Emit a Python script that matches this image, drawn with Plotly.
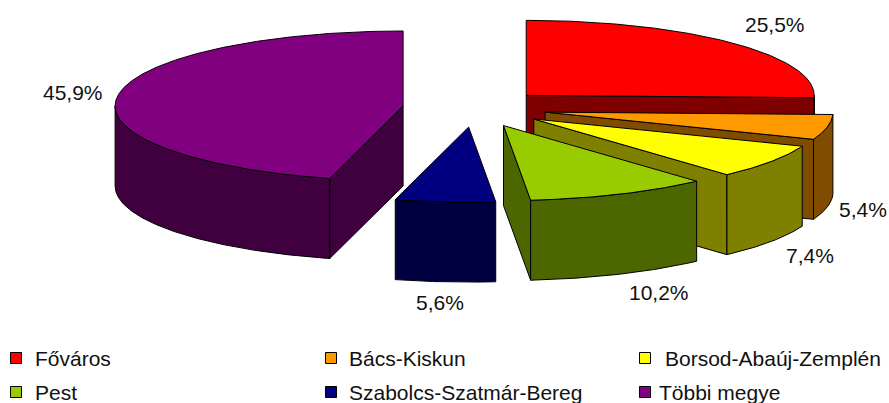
import math
import plotly.graph_objects as go

categories = ["Főváros", "Bács-Kiskun", "Borsod-Abaúj-Zemplén", "Pest", "Szabolcs-Szatmár-Bereg", "Többi megye"]
shares = [25.5, 5.4, 7.4, 10.2, 5.6, 45.9]
share_labels = ["25,5%", "5,4%", "7,4%", "10,2%", "5,6%", "45,9%"]
top_colors = ["#FF0000", "#FF9900", "#FFFF00", "#99CC00", "#000080", "#800080"]
side_colors = ["#7F0000", "#7F4C00", "#7F7F00", "#4C6600", "#000040", "#400040"]

# projection of the pie (canvas units = pixels)
CX, CY, RX, RY, DEPTH, EXPLODE = 474.5, 108.4, 288, 75, 80, 0.25
label_pos = [(775, 24), (863, 209), (810, 255), (659, 292), (440, 302), (73, 92)]
legend_marker = [(16, 358), (331, 358), (645, 358), (16, 392), (331, 392), (645, 392)]
legend_text_x = [33, 347, 663, 33, 347, 657]
legend_text_y = [358, 358, 358, 392, 392, 392]
FONT = "Liberation Sans, Arial, sans-serif"

fig = go.Figure()


def poly(xs, ys, color):
    fig.add_trace(go.Scatter(
        x=xs + xs[:1], y=ys + ys[:1], mode="lines", fill="toself", fillcolor=color,
        line=dict(color="black", width=1), hoverinfo="skip", showlegend=False))


def rim(ax, ay, deg):
    r = math.radians(deg)
    return ax + RX * math.sin(r), ay - RY * math.cos(r)


total = sum(shares)
start = 0.0
for value, top, side in zip(shares, top_colors, side_colors):
    end = start + 360 * value / total
    mid = math.radians((start + end) / 2)
    ax = CX + EXPLODE * RX * math.sin(mid)
    ay = CY - EXPLODE * RY * math.cos(mid)
    steps = max(2, int(end - start) * 2)
    degs = [start + (end - start) * i / steps for i in range(steps + 1)]

    # radial faces that look at the viewer
    if math.sin(math.radians(start)) < -1e-6:
        x1, y1 = rim(ax, ay, start)
        poly([ax, x1, x1, ax], [ay, y1, y1 + DEPTH, ay + DEPTH], side)
    if math.sin(math.radians(end)) > 1e-6:
        x1, y1 = rim(ax, ay, end)
        poly([ax, x1, x1, ax], [ay, y1, y1 + DEPTH, ay + DEPTH], side)

    # outer wall: only its front half is visible
    front = [d for d in degs if 90 <= d <= 270]
    lo, hi = max(start, 90), min(end, 270)
    if hi > lo:
        front = sorted(set([lo] + front + [hi]))
        pts = [rim(ax, ay, d) for d in front]
        xs = [p[0] for p in pts]
        ys = [p[1] for p in pts]
        poly(xs + xs[::-1], ys + [y + DEPTH for y in ys[::-1]], side)

    # top face
    pts = [rim(ax, ay, d) for d in degs]
    poly([ax] + [p[0] for p in pts], [ay] + [p[1] for p in pts], top)
    start = end

annotations = []
for text, (x, y) in zip(share_labels, label_pos):
    annotations.append(dict(x=x, y=y, text=text, showarrow=False, xanchor="center", yanchor="middle"))

fig.add_trace(go.Scatter(
    x=[p[0] for p in legend_marker], y=[p[1] for p in legend_marker], mode="markers",
    marker=dict(symbol="square", size=11, color=top_colors, line=dict(color="black", width=1)),
    hoverinfo="skip", showlegend=False))
for name, tx, ty in zip(categories, legend_text_x, legend_text_y):
    annotations.append(dict(x=tx, y=ty, text=name, showarrow=False, xanchor="left", yanchor="middle"))

fig.update_layout(
    width=889, height=403, margin=dict(l=0, r=0, t=0, b=0),
    paper_bgcolor="white", plot_bgcolor="white", showlegend=False,
    font=dict(family=FONT, size=21, color="#111111"),
    xaxis=dict(range=[0, 889], visible=False, fixedrange=True),
    yaxis=dict(range=[403, 0], visible=False, fixedrange=True),
    annotations=annotations)
fig.write_html("out.html", config={"displayModeBar": False},
               post_script="document.body.style.margin='0';")
